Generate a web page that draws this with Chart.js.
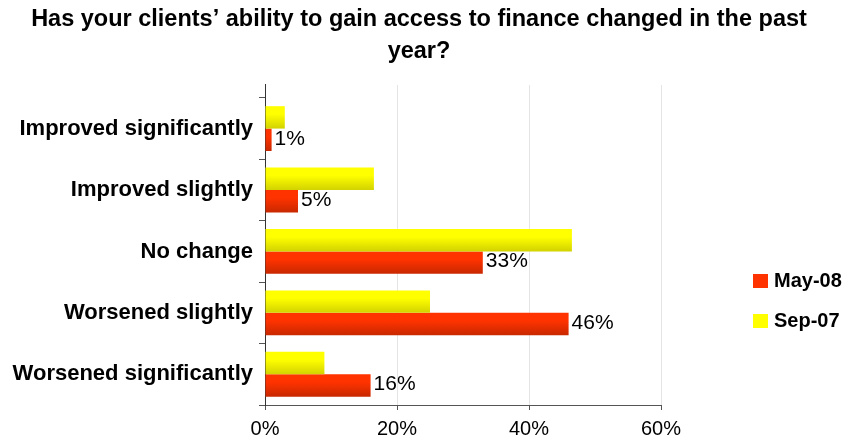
<!DOCTYPE html>
<html>
<head>
<meta charset="utf-8">
<title>Access to finance</title>
<script src="https://cdn.jsdelivr.net/npm/chart.js@4.4.1/dist/chart.umd.min.js"></script>
<style>
  html, body { margin: 0; padding: 0; background: #fff; }
  canvas { display: block; }
</style>
</head>
<body>
<canvas id="financeChart" width="850" height="441"></canvas>
<script>
// Survey answers, share of respondents (%)
const categories = ['Improved significantly', 'Improved slightly', 'No change', 'Worsened slightly', 'Worsened significantly'];
const sep07 = [3, 16.5, 46.5, 25, 9];
const may08 = [1, 5, 33, 46, 16];
const xTicks = [0, 20, 40, 60];

const FONT = 'Arial, "Liberation Sans", sans-serif';
const CAT_PCT = 0.73;   // share of each band taken by the pair of bars
const TOP_GAP = 0.21;   // empty room above the first category, in bands

// top / bottom colours of each bar's shading, plus the flat legend colour
const colours = {
  'Sep-07': ['#FFFF00', '#D2D200'],
  'May-08': ['#FF3300', '#C82800']
};

// vertical shading for one bar, worked out from the category scale
function barShade(pair) {
  return (c) => {
    const chart = c.chart;
    const y = chart.scales.y;
    if (c.type !== 'data' || !y || !chart.chartArea) return pair[0];
    const band = Math.abs(y.getPixelForValue(1) - y.getPixelForValue(0));
    const h = band * CAT_PCT / 2;
    const top = y.getPixelForValue(c.dataIndex) - h + c.datasetIndex * h;
    const g = chart.ctx.createLinearGradient(0, top, 0, top + h);
    g.addColorStop(0, pair[0]);
    g.addColorStop(0.35, pair[0]);
    g.addColorStop(1, pair[1]);
    return g;
  };
}

// percentage printed after each May-08 bar
const valueLabels = {
  id: 'valueLabels',
  afterDatasetsDraw(chart) {
    const ctx = chart.ctx;
    const meta = chart.getDatasetMeta(1);
    ctx.save();
    ctx.font = '21px ' + FONT;
    ctx.fillStyle = '#000';
    ctx.textBaseline = 'middle';
    ctx.textAlign = 'left';
    meta.data.forEach((bar, i) => {
      ctx.fillText(may08[i] + '%', bar.x + 3, bar.y - 1);
    });
    ctx.restore();
  }
};

// legend on the right, May-08 listed first
const sideLegend = {
  id: 'sideLegend',
  afterDraw(chart) {
    const ctx = chart.ctx;
    const x = chart.chartArea.right + 92;
    let y = 281;
    ctx.save();
    ctx.font = 'bold 20px ' + FONT;
    ctx.textBaseline = 'middle';
    chart.data.datasets.slice().reverse().forEach(ds => {
      ctx.fillStyle = colours[ds.label][0];
      ctx.fillRect(x, y - 7, 15, 14);
      ctx.fillStyle = '#000';
      ctx.fillText(ds.label, x + 21, y);
      y += 40;
    });
    ctx.restore();
  }
};

new Chart(document.getElementById('financeChart'), {
  type: 'bar',
  data: {
    labels: categories,
    datasets: [
      { label: 'Sep-07', data: sep07, backgroundColor: barShade(colours['Sep-07']) },
      { label: 'May-08', data: may08, backgroundColor: barShade(colours['May-08']) }
    ]
  },
  options: {
    indexAxis: 'y',
    responsive: false,
    animation: false,
    categoryPercentage: CAT_PCT,
    barPercentage: 1,
    layout: { padding: { left: 0, right: 12, top: 0, bottom: 0 } },
    plugins: {
      legend: { display: false },
      tooltip: { enabled: false },
      title: {
        display: true,
        text: ['Has your clients\u2019 ability to gain access to finance changed in the past', 'year?'],
        color: '#000',
        font: { family: FONT, size: 23.5, weight: 'bold', lineHeight: 1.34 },
        padding: { top: 4, bottom: 18 }
      }
    },
    scales: {
      x: {
        min: xTicks[0],
        max: xTicks[xTicks.length - 1],
        afterBuildTicks: s => { s.ticks = xTicks.map(v => ({ value: v })); },
        afterFit: s => { s.height = 36; },
        ticks: {
          callback: v => v + '%',
          color: '#000',
          padding: 7,
          font: { family: FONT, size: 20 }
        },
        grid: {
          color: c => (c.tick && c.tick.value === 0 ? '#333' : '#E4E4E4'),
          tickColor: '#555',
          tickLength: 5
        },
        border: { color: '#555' }
      },
      y: {
        offset: true,
        afterBuildTicks: s => { s._startValue -= TOP_GAP; s._valueRange += TOP_GAP; },
        afterFit: s => { s.width = 265; },
        grid: { offset: true, drawOnChartArea: false, color: '#555', tickLength: 6 },
        border: { color: '#333' },
        ticks: {
          color: '#000',
          padding: 6,
          autoSkip: false,
          font: { family: FONT, size: 22, weight: 'bold' }
        }
      },
      // keeps room free for the legend on the right
      legendSpace: {
        type: 'linear',
        position: 'right',
        grid: { display: false },
        border: { display: false },
        ticks: { display: false },
        afterFit: s => { s.width = 177; }
      }
    }
  },
  plugins: [valueLabels, sideLegend]
});
</script>
</body>
</html>
